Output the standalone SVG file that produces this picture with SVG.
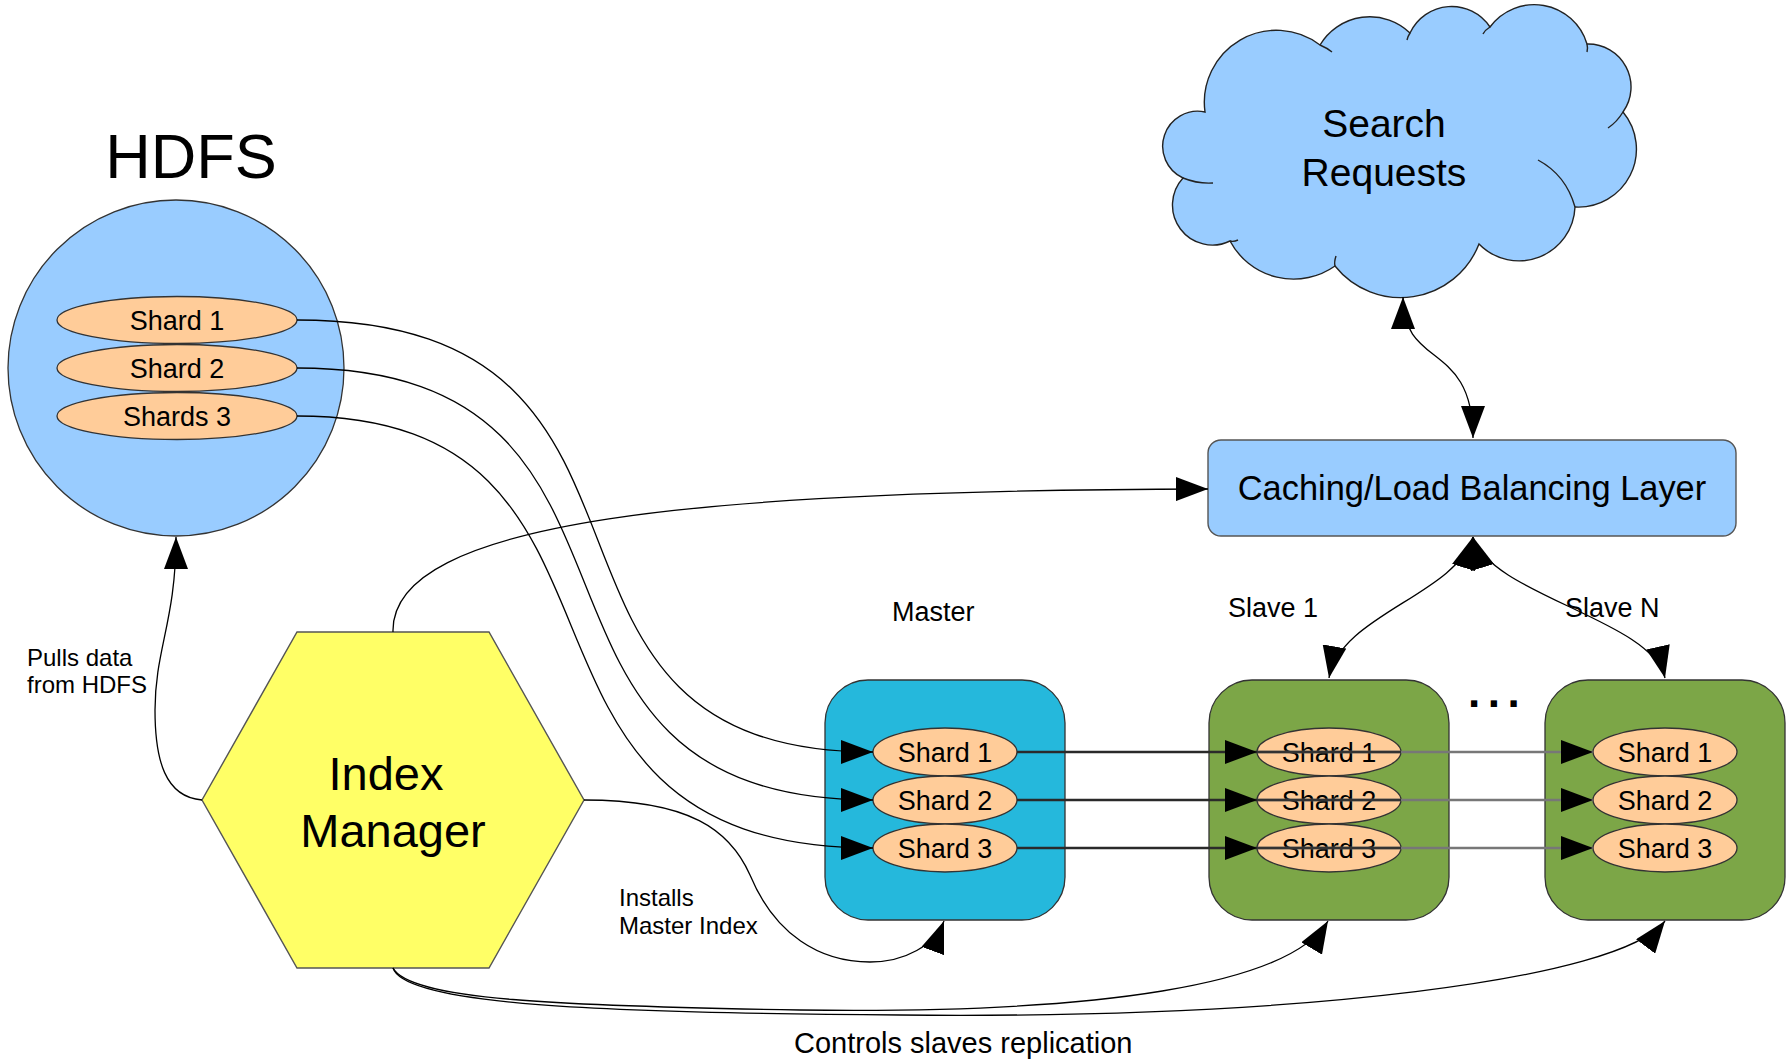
<svg xmlns="http://www.w3.org/2000/svg" width="1791" height="1061" viewBox="0 0 1791 1061">
<style>
.t{font-family:"Liberation Sans",Arial,sans-serif;fill:#000}
.c{fill:none;stroke:#000;stroke-width:1.3}
.h{fill:none;stroke-width:2.6}
.shard{fill:#ffcc99;stroke:#333;stroke-width:1.3}
.st{font-family:"Liberation Sans",Arial,sans-serif;font-size:27px;text-anchor:middle;fill:#000}
.box{stroke:#333;stroke-width:1.3}
.tail{fill:none;stroke:#222;stroke-width:1.4}
</style>
<defs>
<marker id="ah" markerUnits="userSpaceOnUse" markerWidth="32" markerHeight="24" viewBox="0 0 32 24" refX="32" refY="12" orient="auto">
<path d="M0,0 L32,12 L0,24 Z" fill="#000"/>
</marker>
<marker id="ahs" markerUnits="userSpaceOnUse" markerWidth="32" markerHeight="24" viewBox="0 0 32 24" refX="32" refY="12" orient="auto-start-reverse">
<path d="M0,0 L32,12 L0,24 Z" fill="#000"/>
</marker>
</defs>
<rect width="1791" height="1061" fill="#fff"/>

<g id="hdfs">
<text class="t" x="191" y="178" font-size="63" text-anchor="middle">HDFS</text>
<circle cx="176" cy="368" r="168" fill="#99ccff" stroke="#333" stroke-width="1.3"/>
<ellipse class="shard" cx="177" cy="320" rx="120" ry="23.5"/>
<text class="st" x="177" y="330">Shard 1</text>
<ellipse class="shard" cx="177" cy="368" rx="120" ry="23.5"/>
<text class="st" x="177" y="378">Shard 2</text>
<ellipse class="shard" cx="177" cy="416" rx="120" ry="23.5"/>
<text class="st" x="177" y="426">Shards 3</text>
</g>

<g id="search-requests">
<path d="M1205,112 A35,35 0 0 0 1183,178 A40,40 0 0 0 1230,241 A72,72 0 0 0 1335,266 A84,84 0 0 0 1479,244 A56,56 0 0 0 1575,207 A58,58 0 0 0 1623,112 A43,43 0 0 0 1587,44 A55,55 0 0 0 1490,27 A46,46 0 0 0 1410,33 A58,58 0 0 0 1320,45 A72,72 0 0 0 1205,112 Z" fill="#99ccff" stroke="#222" stroke-width="1.4"/>
<path class="tail" d="M1183,178 Q1198,184 1213,183"/>
<path class="tail" d="M1230,241 Q1234,242 1238,240"/>
<path class="tail" d="M1335,266 Q1334,262 1336,256"/>
<path class="tail" d="M1575,207 Q1566,175 1538,160"/>
<path class="tail" d="M1623,112 Q1617,122 1608,128"/>
<path class="tail" d="M1587,44 Q1588,48 1587,52"/>
<path class="tail" d="M1490,27 Q1485,30 1483,34"/>
<path class="tail" d="M1410,33 Q1408,36 1407,40"/>
<path class="tail" d="M1320,45 Q1327,48 1332,52"/>
<text class="t" x="1384" y="137" font-size="39" text-anchor="middle">Search</text>
<text class="t" x="1384" y="186" font-size="39" text-anchor="middle">Requests</text>
</g>

<g id="caching-layer">
<rect x="1208" y="440" width="528" height="96" rx="13" fill="#99ccff" stroke="#555" stroke-width="1.4"/>
<text class="t" x="1472" y="500" font-size="34.4" text-anchor="middle">Caching/Load Balancing Layer</text>
</g>

<g id="index-manager">
<polygon points="297,632 489,632 584,800 489,968 297,968 202,800" fill="#ffff66" stroke="#555" stroke-width="1.4"/>
<text class="t" x="386" y="790" font-size="47" text-anchor="middle">Index</text>
<text class="t" x="393" y="847" font-size="47" text-anchor="middle">Manager</text>
</g>

<g id="master">
<text class="t" x="892" y="621" font-size="27">Master</text>
<rect class="box" x="825" y="680" width="240" height="240" rx="43" fill="#25b8dc"/>
<ellipse class="shard" cx="945" cy="752" rx="72" ry="24"/>
<text class="st" x="945" y="762">Shard 1</text>
<ellipse class="shard" cx="945" cy="800" rx="72" ry="24"/>
<text class="st" x="945" y="810">Shard 2</text>
<ellipse class="shard" cx="945" cy="848" rx="72" ry="24"/>
<text class="st" x="945" y="858">Shard 3</text>
</g>

<g id="slave-1">
<text class="t" x="1228" y="617" font-size="27">Slave 1</text>
<rect class="box" x="1209" y="680" width="240" height="240" rx="43" fill="#7ca647"/>
<ellipse class="shard" cx="1329" cy="752" rx="72" ry="24"/>
<text class="st" x="1329" y="762">Shard 1</text>
<ellipse class="shard" cx="1329" cy="800" rx="72" ry="24"/>
<text class="st" x="1329" y="810">Shard 2</text>
<ellipse class="shard" cx="1329" cy="848" rx="72" ry="24"/>
<text class="st" x="1329" y="858">Shard 3</text>
</g>

<g id="ellipsis">
<text class="t" x="1468" y="707" font-size="44" font-weight="bold" letter-spacing="7.5">...</text>
</g>

<g id="slave-n">
<text class="t" x="1565" y="617" font-size="27">Slave N</text>
<rect class="box" x="1545" y="680" width="240" height="240" rx="43" fill="#7ca647"/>
<ellipse class="shard" cx="1665" cy="752" rx="72" ry="24"/>
<text class="st" x="1665" y="762">Shard 1</text>
<ellipse class="shard" cx="1665" cy="800" rx="72" ry="24"/>
<text class="st" x="1665" y="810">Shard 2</text>
<ellipse class="shard" cx="1665" cy="848" rx="72" ry="24"/>
<text class="st" x="1665" y="858">Shard 3</text>
</g>

<g id="labels">
<text class="t" x="27" y="666" font-size="24">Pulls data</text>
<text class="t" x="27" y="693" font-size="24">from HDFS</text>
<text class="t" x="619" y="906" font-size="24">Installs</text>
<text class="t" x="619" y="934" font-size="24">Master Index</text>
<text class="t" x="794" y="1053" font-size="29">Controls slaves replication</text>
</g>

<g id="connectors">
<path class="c" d="M297,320 C720,320 480,752 873,752" marker-end="url(#ah)"/>
<path class="c" d="M297,368 C700,368 470,800 873,800" marker-end="url(#ah)"/>
<path class="c" d="M297,416 C680,416 460,848 873,848" marker-end="url(#ah)"/>
<path class="c" d="M202,800 C165,797 155,760 155,710 C155,650 176,620 176,537" marker-end="url(#ah)"/>
<path class="c" d="M393,632 C390,520 700,490 1208,489" marker-end="url(#ah)"/>
<path class="c" d="M584,800 C690,800 730,830 750,875 C775,935 820,962 870,962 C905,962 935,945 944,921" marker-end="url(#ah)"/>
<path class="c" d="M393,968 C410,1000 560,1006 800,1010 C1100,1014 1290,985 1328,921" marker-end="url(#ah)"/>
<path class="c" d="M393,968 C405,1005 600,1013 900,1015 C1300,1019 1620,980 1665,921" marker-end="url(#ah)"/>
<path class="c" d="M1403,297 C1403,370 1473,340 1473,438" marker-start="url(#ahs)" marker-end="url(#ah)"/>
<path class="c" d="M1473,537 C1455,595 1340,615 1329,678" marker-start="url(#ahs)" marker-end="url(#ah)"/>
<path class="c" d="M1473,537 C1491,595 1652,620 1665,678" marker-start="url(#ahs)" marker-end="url(#ah)"/>
<path class="h" stroke="#2a2a2a" d="M1017,752 H1257" marker-end="url(#ah)"/>
<path class="h" stroke="#2a2a2a" d="M1017,800 H1257" marker-end="url(#ah)"/>
<path class="h" stroke="#2a2a2a" d="M1017,848 H1257" marker-end="url(#ah)"/>
<path class="h" stroke="#777" d="M1257,752 H1593" marker-end="url(#ah)"/>
<path class="h" stroke="#777" d="M1257,800 H1593" marker-end="url(#ah)"/>
<path class="h" stroke="#777" d="M1257,848 H1593" marker-end="url(#ah)"/>
<path class="h" stroke="#333" d="M1257,752 H1401 M1257,800 H1401 M1257,848 H1401"/>
</g>
</svg>
